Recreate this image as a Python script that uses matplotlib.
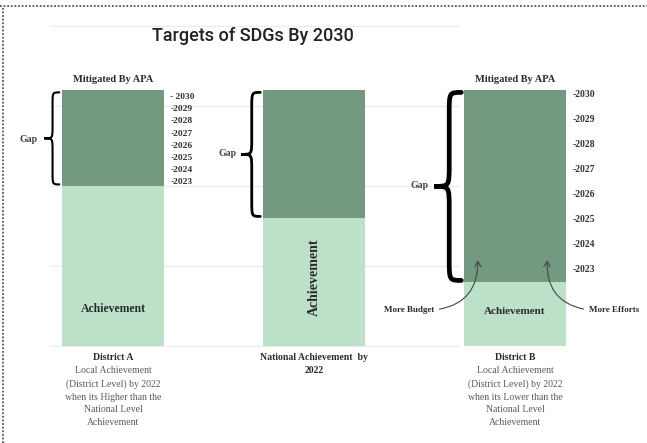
import numpy as np
import matplotlib.pyplot as plt
from matplotlib.path import Path
from matplotlib.patches import PathPatch
from matplotlib.lines import Line2D

# values (1 unit = one gridline step)
groups = ["District A", "National", "District B"]
target = [3.2, 3.2, 3.2]
achievement = [2.0, 1.6, 0.8]
years = ["2030", "2029", "2028", "2027", "2026", "2025", "2024", "2023"]
bottom_titles = ["District A", "National Achievement  by\n2022", "District B"]
bottom_notes = [
    "Local Achievement\n(District Level) by 2022\nwhen its Higher than the\nNational Level\nAchievement",
    "",
    "Local Achievement\n(District Level) by 2022\nwhen its Lower than the\nNational Level\nAchievement",
]

dark = "#739a80"
light = "#bde0c9"
ink = "#2b2b2b"
grey = "#5a5a5a"
serif = "Liberation Serif"

W, H = 647, 443
fig = plt.figure(figsize=(W / 100, H / 100), dpi=100)
ax = fig.add_axes([0, 0, 1, 1])
# one x unit = 201 px, one y unit = 80 px; first bar centred at 113 px, baseline at 346 px
ax.set_xlim(-113 / 201, (W - 113) / 201)
ax.set_ylim(-(H - 346) / 80, 346 / 80)
ax.axis("off")


def pos(x, y):
    # pixel position on the picture -> data coords
    return (x - 113) / 201, (346 - y) / 80


# x units -> y units, so braces keep their shape
xy_ratio = 201 / 80

# light gridlines
gx0, _ = pos(50, 0)
gx1, _ = pos(460, 0)
ax.hlines(np.arange(0, 5), gx0, gx1, color="#ececec", lw=0.9, zorder=0)

x = np.arange(len(groups))
bw = 0.51
gap = np.array(target) - np.array(achievement)
ax.bar(x, achievement, width=bw, color=light, zorder=2)
ax.bar(x, gap, bottom=achievement, width=bw, color=dark, zorder=2)


def brace(xr, y0, y1, width, lw):
    # left facing curly brace, tips at xr, point at xr - width
    xa = xr - 0.45 * width
    xc = xr - width
    ym = (y0 + y1) / 2
    c = min(width * xy_ratio * 0.8, (y1 - y0) / 4)
    verts = [
        (xr, y1), (xa, y1), (xa, y1), (xa, y1 - c),
        (xa, ym + c),
        (xa, ym), (xa, ym), (xc, ym),
        (xa, ym), (xa, ym), (xa, ym - c),
        (xa, y0 + c),
        (xa, y0), (xa, y0), (xr, y0),
    ]
    codes = [Path.MOVETO] + [Path.CURVE4] * 3 + [Path.LINETO] + [Path.CURVE4] * 6 \
        + [Path.LINETO] + [Path.CURVE4] * 3
    ax.add_patch(PathPatch(Path(verts, codes), fill=False, lw=lw, color="black",
                           capstyle="round", zorder=3))


brace_w = [0.075, 0.095, 0.134]
brace_lw = [1.5, 2.0, 3.4]
gap_pos = [pos(29, 139), pos(228, 154), pos(420, 186)]
for i in range(3):
    xr = x[i] - bw / 2 - 0.012
    brace(xr, achievement[i] + 0.02, target[i] - 0.03, brace_w[i], brace_lw[i])
    ax.text(*gap_pos[i], "Gap", ha="center", va="center", fontsize=7,
            family=serif, weight="bold", color="#444444")

# "Mitigated By APA" over the two districts
for i in (0, 2):
    ax.text(x[i], target[i] + 0.08, "Mitigated By APA", ha="center", va="bottom",
            fontsize=7.5, family=serif, weight="bold", color=ink)

# year scales beside the districts
ya = np.linspace(target[0] - 0.09, achievement[0] + 0.05, len(years))
for k, (yr, yy) in enumerate(zip(years, ya)):
    lab = "- " + yr if k == 0 else "-" + yr
    ax.text(x[0] + bw / 2 + 0.03, yy, lab, ha="left", va="center", fontsize=6.8,
            family=serif, weight="bold", color="#333333")
yb = np.linspace(target[2] - 0.06, achievement[2] + 0.15, len(years))
for yr, yy in zip(years, yb):
    ax.text(x[2] + bw / 2 + 0.03, yy, "-" + yr, ha="left", va="center", fontsize=7,
            family=serif, weight="bold", color="#333333")

# "Achievement" labels inside the light parts
ax.text(x[0], pos(0, 309)[1], "Achievement", ha="center", va="center", fontsize=8.5,
        family=serif, weight="bold", color=ink, zorder=4)
ax.text(x[1], pos(0, 277)[1], "Achievement", ha="center", va="center", fontsize=10,
        family=serif, weight="bold", color=ink, rotation=90, zorder=4)
ax.text(x[2], pos(0, 311)[1], "Achievement", ha="center", va="center", fontsize=8,
        family=serif, weight="bold", color=ink, zorder=4)

# arrows into district B gap
tip_y = achievement[2] + 0.27
arrow = dict(arrowstyle="->,head_length=0.6,head_width=0.35", lw=0.8, color="#444444",
             shrinkA=2, shrinkB=0)
ax.annotate("More Budget", xy=(x[2] - bw / 2 + 0.07, tip_y), xytext=pos(434, 310),
            ha="right", va="center", fontsize=6.5, family=serif, weight="bold", color=ink,
            arrowprops=dict(arrow, relpos=(1, 0.5), connectionstyle="arc3,rad=0.45"), zorder=5)
ax.annotate("More Efforts", xy=(x[2] + bw / 2 - 0.095, tip_y), xytext=pos(589, 310),
            ha="left", va="center", fontsize=6.5, family=serif, weight="bold", color=ink,
            arrowprops=dict(arrow, relpos=(0, 0.5), connectionstyle="arc3,rad=-0.45"), zorder=5)

# captions under the bars
for i in range(3):
    ax.text(x[i], pos(0, 353)[1], bottom_titles[i], ha="center", va="top", fontsize=7,
            family=serif, weight="bold", color=ink, linespacing=1.6)
    if bottom_notes[i]:
        ax.text(x[i], pos(0, 366)[1], bottom_notes[i], ha="center", va="top", fontsize=7,
                family=serif, color=grey, linespacing=1.55)

ax.text(*pos(253, 36), "Targets of SDGs By 2030", ha="center", va="center", fontsize=13,
        family="Roboto", weight="medium", color="#222222")

# dotted frame on top and left
fig.add_artist(Line2D([0, 1], [1 - 6 / H, 1 - 6 / H], transform=fig.transFigure,
                      color="#555555", lw=1.3, dashes=(1, 1)))
fig.add_artist(Line2D([3 / W, 3 / W], [0, 1 - 6 / H], transform=fig.transFigure,
                      color="#555555", lw=1.3, dashes=(1, 1)))

fig.savefig("out.png", dpi=100)
